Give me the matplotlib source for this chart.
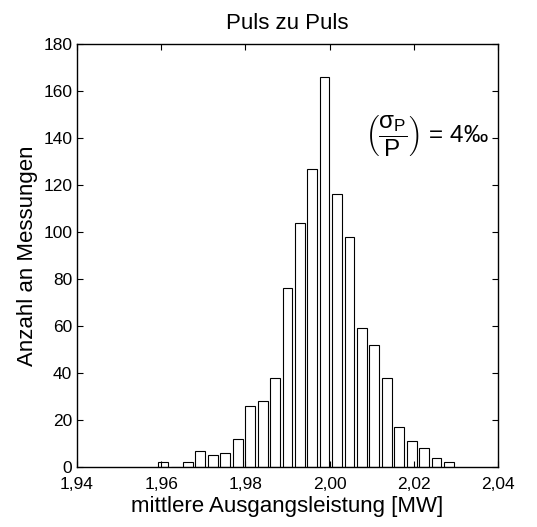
import matplotlib
matplotlib.use("Agg")
import matplotlib.pyplot as plt
from matplotlib.ticker import FuncFormatter

plt.rcParams['font.family'] = ['Liberation Sans', 'DejaVu Sans']
plt.rcParams['mathtext.fontset'] = 'custom'
plt.rcParams['mathtext.rm'] = 'Liberation Sans'
plt.rcParams['mathtext.it'] = 'Liberation Sans'
plt.rcParams['mathtext.sf'] = 'Liberation Sans'

# Histogram bin centres [MW] and counts per bin
bin_centers = [1.9605, 1.9634, 1.9664, 1.9693, 1.9723, 1.9752, 1.9782, 1.9811,
               1.9841, 1.9870, 1.9900, 1.9929, 1.9959, 1.9988, 2.0018, 2.0047,
               2.0077, 2.0106, 2.0136, 2.0165, 2.0195, 2.0224, 2.0254, 2.0284]
counts = [2, 0, 2, 7, 5, 6, 12, 26,
          28, 38, 76, 104, 127, 166, 116, 98,
          59, 52, 38, 17, 11, 8, 4, 2]

x_ticks = [1.94, 1.96, 1.98, 2.00, 2.02, 2.04]
y_ticks = list(range(0, 181, 20))

fig = plt.figure(figsize=(5.37, 5.27), dpi=100)
ax = fig.add_axes([0.1434, 0.1139, 0.7840, 0.8026])

bin_width = bin_centers[1] - bin_centers[0]
ax.bar(bin_centers, counts, width=0.8 * bin_width, color='white',
       edgecolor='black', linewidth=0.8, zorder=1)

ax.set_xlim(1.94, 2.04)
ax.set_ylim(0, 180)
ax.set_xticks(x_ticks)
ax.set_yticks(y_ticks)
ax.xaxis.set_major_formatter(FuncFormatter(lambda v, p: f"{v:.2f}".replace('.', ',')))

ax.tick_params(direction='in', top=True, right=True, length=4, width=0.8,
               labelsize=12.5)
ax.tick_params(axis='x', pad=7)
ax.tick_params(axis='y', pad=3.5)
for s in ax.spines.values():
    s.set_linewidth(1.0)

ax.set_title('Puls zu Puls', fontsize=16, pad=11)
ax.set_xlabel('mittlere Ausgangsleistung [MW]', fontsize=16, labelpad=3)
ax.set_ylabel('Anzahl an Messungen', fontsize=16, labelpad=4)

ax.text(0.683, 0.7825, r'$\left(\dfrac{\sigma_P}{P}\right)$ = 4‰', transform=ax.transAxes,
        fontsize=17.5, va='center', ha='left')

fig.savefig('out.png', dpi=100)
